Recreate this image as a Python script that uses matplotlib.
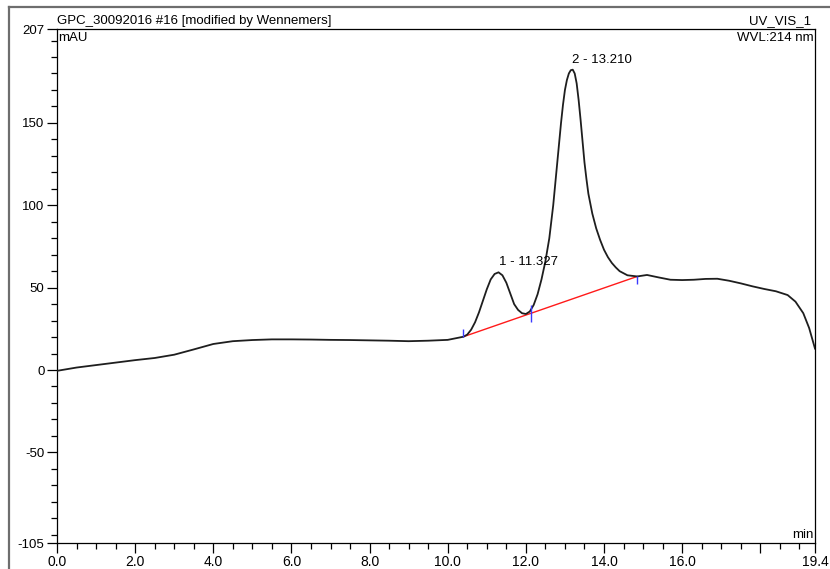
import numpy as np
import matplotlib.pyplot as plt
from matplotlib.lines import Line2D
from matplotlib.ticker import FixedLocator, MultipleLocator

# retention time (min) and UV signal (mAU) of the chromatogram trace
time_min = [0.0, 0.5, 1.0, 1.5, 2.0, 2.5, 3.0, 3.5, 4.0, 4.5, 5.0, 5.5, 6.0, 6.5,
            7.0, 7.5, 8.0, 8.5, 9.0, 9.5, 10.0, 10.4, 10.5, 10.6, 10.7, 10.8,
            10.9, 11.0, 11.1, 11.2, 11.3, 11.4, 11.5, 11.6, 11.7, 11.8, 11.9,
            12.0, 12.1, 12.2, 12.3, 12.4, 12.5, 12.6, 12.7, 12.8, 12.9, 12.95,
            13.0, 13.05, 13.1, 13.15, 13.2, 13.25, 13.3, 13.35, 13.4, 13.45,
            13.5, 13.55, 13.6, 13.7, 13.8, 13.9, 14.0, 14.1, 14.2, 14.3, 14.4,
            14.6, 14.85, 15.1, 15.4, 15.7, 16.0, 16.3, 16.6, 16.9, 17.2, 17.5,
            17.8, 18.1, 18.4, 18.7, 18.9, 19.1, 19.25, 19.4]
signal_mau = [-0.5, 1.5, 3.0, 4.5, 6.0, 7.3, 9.3, 12.5, 15.8, 17.5, 18.2, 18.6,
              18.6, 18.5, 18.3, 18.2, 18.0, 17.8, 17.5, 17.8, 18.3, 20.2, 21.5,
              24.5, 29.0, 35.0, 42.0, 49.0, 55.0, 58.3, 59.3, 57.5, 53.0, 46.5,
              40.0, 36.5, 34.5, 34.0, 35.5, 39.5, 46.0, 55.0, 66.0, 80.0, 100.0,
              125.0, 150.0, 161.0, 170.0, 176.0, 180.0, 182.0, 182.3, 180.0,
              174.0, 164.0, 152.0, 139.0, 126.0, 116.0, 107.0, 95.0, 86.0, 79.0,
              73.0, 68.5, 65.0, 62.3, 60.0, 57.5, 56.8, 57.7, 56.2, 54.8, 54.6,
              54.8, 55.3, 55.4, 54.2, 52.6, 50.8, 49.2, 47.8, 45.5, 41.5, 34.5,
              25.5, 13.0]

# integration baseline and peak delimiters
baseline_t = [10.40, 14.85]
baseline_y = [20.2, 56.8]
delim_t = [10.40, 12.12, 14.85]

# peak labels
peak_names = ['1 - 11.327', '2 - 13.210']
peak_t = [11.30, 13.17]
peak_y = [59.3, 182.3]

x_major = [0.0, 2.0, 4.0, 6.0, 8.0, 10.0, 12.0, 14.0, 16.0, 18.0, 19.4]
x_labels = ['0.0', '2.0', '4.0', '6.0', '8.0', '10.0', '12.0', '14.0', '16.0', '', '19.4']
y_major = [-105, -50, 0, 50, 100, 150, 207]

plt.rcParams['font.family'] = ['Liberation Sans', 'DejaVu Sans']

fig = plt.figure(figsize=(8.3, 5.69), dpi=100)
ax = fig.add_axes([57 / 830, 1 - 543 / 569, (815 - 57) / 830, (543 - 29) / 569])

ax.plot(time_min, signal_mau, color='#1e1e1e', lw=1.3, zorder=3,
        solid_joinstyle='round')
ax.plot(baseline_t, baseline_y, color='#ff1a1a', lw=1.0, zorder=2)

# delimiter ticks: start drawn upward, valley across, end downward
b_at = np.interp(delim_t, baseline_t, baseline_y)
ax.vlines(delim_t[0], b_at[0], b_at[0] + 4.5, color='#3a3aff', lw=1.0, zorder=4)
ax.vlines(delim_t[1], b_at[1] - 5.0, b_at[1] + 5.0, color='#3a3aff', lw=1.0, zorder=4)
ax.vlines(delim_t[2], b_at[2] - 4.5, b_at[2], color='#3a3aff', lw=1.0, zorder=4)

for name, t, y in zip(peak_names, peak_t, peak_y):
    ax.annotate(name, (t, y), xytext=(0, 3), textcoords='offset points',
                ha='left', va='bottom', fontsize=9.5)

ax.set_xlim(0, 19.4)
ax.set_ylim(-105, 207)

ax.xaxis.set_major_locator(FixedLocator(x_major))
ax.set_xticklabels(x_labels, fontsize=10)
ax.xaxis.set_minor_locator(MultipleLocator(0.5))
ax.yaxis.set_major_locator(FixedLocator(y_major))
ax.set_yticklabels([str(v) for v in y_major], fontsize=9.5)
ax.yaxis.set_minor_locator(FixedLocator(np.arange(-100, 201, 10)))

ax.tick_params(which='major', direction='out', length=7, width=0.9, pad=2, colors='black')
ax.tick_params(which='minor', direction='out', length=4, width=0.9)
for s in ax.spines.values():
    s.set_linewidth(0.9)

ax.text(0.002, 0.995, 'mAU', transform=ax.transAxes, ha='left', va='top', fontsize=9.5)
ax.text(0.998, 0.995, 'WVL:214 nm', transform=ax.transAxes, ha='right', va='top', fontsize=9.5)
ax.text(0.998, 0.004, 'min', transform=ax.transAxes, ha='right', va='bottom', fontsize=9.5)
ax.text(0.0, 1.004, 'GPC_30092016 #16 [modified by Wennemers]', transform=ax.transAxes,
        ha='left', va='bottom', fontsize=9.5)
ax.text(0.995, 1.004, 'UV_VIS_1', transform=ax.transAxes, ha='right', va='bottom', fontsize=9.5)

# report frame (top and left edges)
fig.add_artist(Line2D([9 / 830, 1.0], [1 - 7 / 569, 1 - 7 / 569], color='#6e6e6e', lw=1.6))
fig.add_artist(Line2D([9 / 830, 9 / 830], [0.0, 1 - 7 / 569], color='#6e6e6e', lw=1.6))

fig.savefig('out.png', dpi=100)
